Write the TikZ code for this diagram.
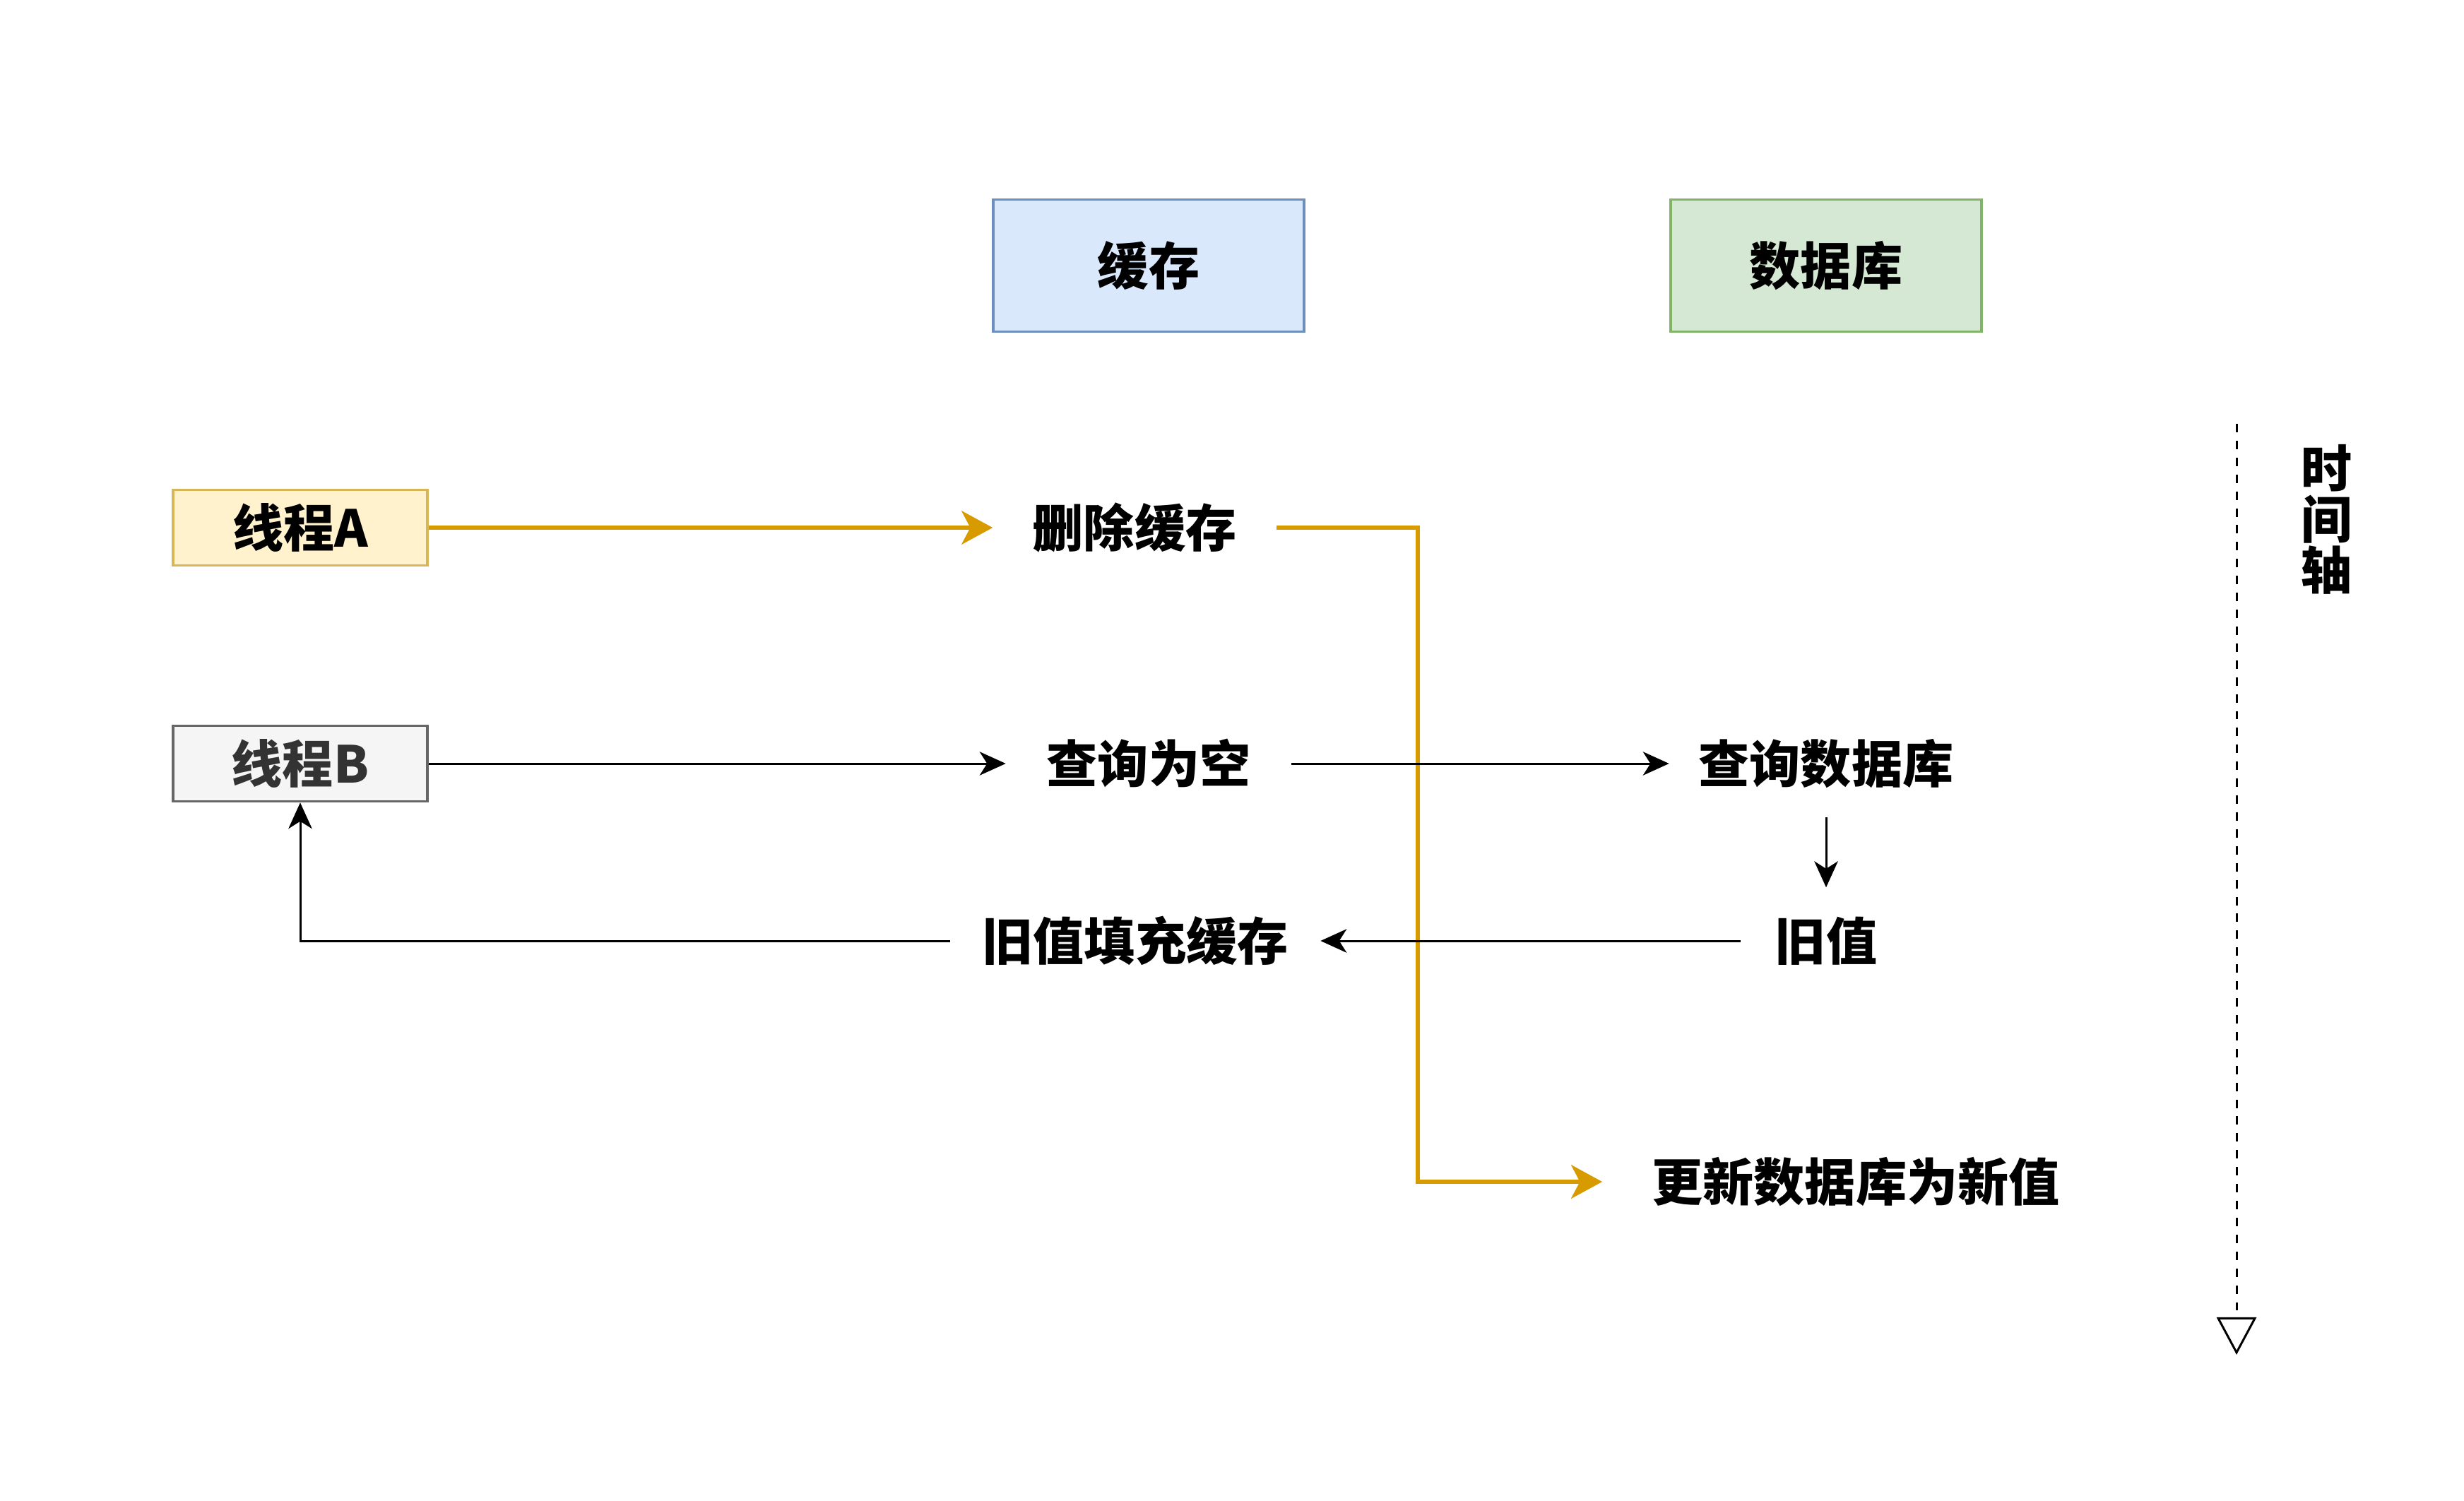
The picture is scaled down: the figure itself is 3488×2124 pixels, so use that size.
\documentclass[tikz,border=0pt]{standalone}
\usepackage{fontspec}
\setmainfont{Noto Sans CJK SC}
\usepackage{tikz}
\usetikzlibrary{positioning, arrows.meta}
\definecolor{cachefill}{HTML}{DAE8FC}
\definecolor{cachedraw}{HTML}{6C8EBF}
\definecolor{dbfill}{HTML}{D5E8D4}
\definecolor{dbdraw}{HTML}{82B366}
\definecolor{afill}{HTML}{FFF2CC}
\definecolor{adraw}{HTML}{D6B656}
\definecolor{bfill}{HTML}{F5F5F5}
\definecolor{bdraw}{HTML}{666666}
\definecolor{btext}{HTML}{333333}
\definecolor{aflow}{HTML}{D79B00}
\newcommand{\lblfont}{\fontsize{20.5}{20.5}\selectfont\bfseries}
\tikzset{
  store/.style={draw=#1, line width=1pt, font=\lblfont,
                minimum width=4.4cm, minimum height=1.87cm, inner sep=0pt},
  thr/.style={draw=#1, line width=1pt, font=\lblfont,
              minimum width=3.6cm, minimum height=1.07cm, inner sep=0pt},
  act/.style={font=\lblfont, minimum width=#1, minimum height=1.5cm, inner sep=0pt},
  flowa/.style={-{Stealth[length=12.5pt, width=13.5pt, inset=3.5pt]}, line width=1.8pt, aflow},
  flowb/.style={-{Stealth[length=10.5pt, width=9.5pt, inset=3pt]}, line width=0.85pt},
  tl/.style={-{Triangle[open, length=0.53cm, width=0.56cm]}, line width=0.85pt,
             dash pattern=on 3.4pt off 3.4pt}
}
\begin{document}
\begin{tikzpicture}[x=0.01cm, y=-0.01cm]
  \useasboundingbox (0,0) rectangle (3488,2124);
  % columns
  \node[store=cachedraw, fill=cachefill] (cache) at (1626,376) {缓存};
  \node[store=dbdraw, fill=dbfill] (db) at (2585,376) {数据库};
  % threads
  \node[thr=adraw, fill=afill] (ta) at (425,747) {线程A};
  \node[thr=bdraw, fill=bfill, text=btext] (tb) at (425,1081) {线程B};
  % steps
  \node[act=4cm] (del) at (1606,747) {删除缓存};
  \node[act=4.03cm] (miss) at (1626,1081) {查询为空};
  \node[act=4.43cm] (qdb) at (2585,1081) {查询数据库};
  \node[act=2.4cm] (old) at (2585,1332) {旧值};
  \node[act=5.23cm] (fill) at (1607,1332) {旧值填充缓存};
  \node[act=7.16cm] (upd) at (2627,1673) {更新数据库为新值};
  % thread A
  \draw[flowa] (ta.east) -- (del.west);
  \draw[flowa] (del.east) -- ++(200,0) |- (upd.west);
  % thread B
  \draw[flowb] (tb.east) -- (miss.west);
  \draw[flowb] (miss.east) -- (qdb.west);
  \draw[flowb] (qdb.south) -- (old.north);
  \draw[flowb] (old.west) -- (fill.east);
  \draw[flowb] (fill.west) -| (tb.south);
  % time axis
  \coordinate (t0) at (3166,600);
  \coordinate (t1) at (3166,1918);
  \draw[tl] (t0) -- (t1);
  \node[font=\lblfont, align=center] (axis) at (3293,735) {时\\间\\轴};
\end{tikzpicture}
\end{document}
